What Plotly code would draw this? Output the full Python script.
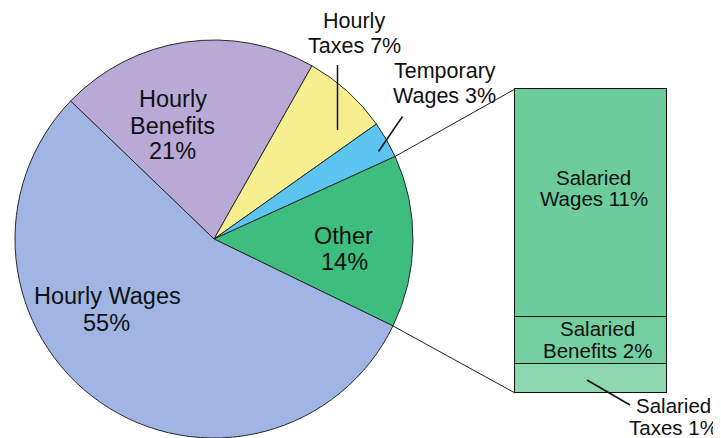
import numpy as np
import plotly.graph_objects as go

PAGE_W, PAGE_H = 721, 438
OFF = 8  # default body margin of the page
W, H = PAGE_W - OFF, PAGE_H - OFF

# ---- data ----
pie_labels = ["Hourly Benefits", "Hourly Taxes", "Temporary Wages", "Other", "Hourly Wages"]
pie_values = [21, 7, 3, 14, 55]
pie_colors = ["#b9a9d7", "#f7ef8f", "#5cc4f0", "#3dbd7e", "#a0b5e3"]

bar_labels = ["Salaried Taxes", "Salaried Benefits", "Salaried Wages"]
bar_values = [1.3, 2.2, 10.5]
bar_colors = ["#8dd7b1", "#74cfa1", "#6ccc9c"]

FONT = "Arial, Liberation Sans, sans-serif"

# ---- layout geometry (page pixels) ----
cx, cy, r = 214, 239, 199
rotation = -46.1
bar_box = (515, 89, 667, 393)  # left, top, right, bottom


def px2paper(x, y):
    return (x - OFF) / W, 1 - (y - OFF) / H


fig = go.Figure()

px0, py_top = px2paper(cx - r, cy - r)
px1, py_bot = px2paper(cx + r, cy + r)
fig.add_trace(go.Pie(
    labels=pie_labels, values=pie_values, sort=False, direction="clockwise",
    rotation=rotation, textinfo="none", hoverinfo="none", showlegend=False,
    marker=dict(colors=pie_colors, line=dict(color="#2a2a2a", width=1)),
    domain=dict(x=[px0, px1], y=[max(0, py_bot), min(1, py_top)]),
))

# bar axes: unit widths chosen so bar fills bar_box
bl, bt, br, bb = bar_box
total = sum(bar_values)
xpad, ypad = 0.1, 0.3
ux = (br - bl)  # px per x unit (bar width 1)
uy = (bb - bt) / total
xd0, yd0 = px2paper(bl - xpad * ux, bb + ypad * uy)
xd1, yd1 = px2paper(br + xpad * ux, bt - ypad * uy)

for lab, v, c in zip(bar_labels, bar_values, bar_colors):
    fig.add_trace(go.Bar(
        x=[0], y=[v], name=lab, width=1, marker=dict(color=c, line=dict(color="#111", width=1)),
        hoverinfo="none", showlegend=False, xaxis="x", yaxis="y",
    ))

shapes = []
# connector lines from pie edge (slice boundaries of "Other") to bar corners
cum = np.cumsum([0] + pie_values) / sum(pie_values) * 360.0
i_other = pie_labels.index("Other")
for ang, corner_y in [(cum[i_other], bt), (cum[i_other + 1], bb)]:
    th = np.deg2rad(rotation + ang)
    ex, ey = cx + r * np.sin(th), cy - r * np.cos(th)
    x0, y0 = px2paper(ex, ey)
    x1, y1 = px2paper(bl, corner_y)
    shapes.append(dict(type="line", xref="paper", yref="paper", x0=x0, y0=y0, x1=x1, y1=y1,
                       line=dict(color="#222", width=1)))

# leader lines for outside labels
leaders = [((337.5, 65), (337.5, 130)), ((402.5, 116.5), (378.5, 151.5)), ((587, 380), (630, 405))]
for (a, b) in leaders:
    x0, y0 = px2paper(*a)
    x1, y1 = px2paper(*b)
    shapes.append(dict(type="line", xref="paper", yref="paper", x0=x0, y0=y0, x1=x1, y1=y1,
                       line=dict(color="#111", width=1.5)))

# label lines: text, x center, y center (page px), font size
label_lines = [
    ("Hourly Wages", 107.5, 296, 23.5), ("55%", 106.5, 323, 23.5),
    ("Hourly", 172.5, 98.5, 23.5), ("Benefits", 172.5, 125.5, 23.5), ("21%", 172.5, 151, 23.5),
    ("Other", 343.5, 235.5, 23.5), ("14%", 344, 262, 23.5),
    ("Hourly", 353.5, 20.5, 21.5), ("Taxes 7%", 354.5, 46.5, 21.5),
    ("Temporary", 444.5, 71, 21.5), ("Wages 3%", 444.5, 96, 21.5),
    ("Salaried", 593.5, 177.5, 20.5), ("Wages 11%", 593.5, 198.5, 20.5),
    ("Salaried", 597, 328, 20.5), ("Benefits 2%", 597, 350, 20.5),
    ("Salaried", 673.5, 405, 20.5), ("Taxes 1%", 673.5, 427, 20.5),
]
annotations = []
for t, x, y, s in label_lines:
    px, py = px2paper(x, y)
    annotations.append(dict(text=t, x=px, y=py, xref="paper", yref="paper", showarrow=False,
                            xanchor="center", yanchor="middle",
                            font=dict(family=FONT, size=s, color="#111")))

fig.update_layout(
    width=W, height=H, margin=dict(l=0, r=0, t=0, b=0),
    paper_bgcolor="white", plot_bgcolor="rgba(0,0,0,0)",
    barmode="stack", bargap=0,
    xaxis=dict(domain=[xd0, xd1], range=[-0.5 - xpad, 0.5 + xpad], visible=False, fixedrange=True),
    yaxis=dict(domain=[yd0, yd1], range=[-ypad, total + ypad], visible=False, fixedrange=True),
    shapes=shapes, annotations=annotations,
    font=dict(family=FONT),
)

fig.write_html("out.html")
